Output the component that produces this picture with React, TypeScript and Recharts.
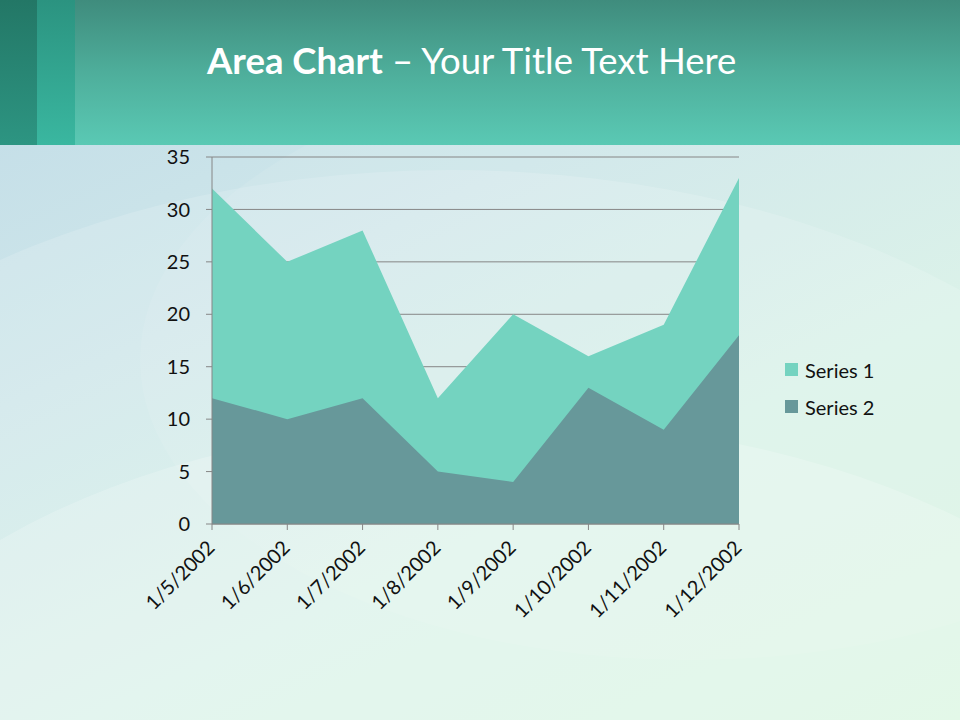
import { AreaChart, Area, XAxis, YAxis, CartesianGrid } from 'recharts'

const dates = ['1/5/2002', '1/6/2002', '1/7/2002', '1/8/2002', '1/9/2002', '1/10/2002', '1/11/2002', '1/12/2002']
const series1 = [32, 25, 28, 12, 20, 16, 19, 33]
const series2 = [12, 10, 12, 5, 4, 13, 9, 18]
const yTicks = [0, 5, 10, 15, 20, 25, 30, 35]
const seriesNames = ['Series 1', 'Series 2']

const colors = {
  s1: '#74d3c0',
  s2: '#67989a',
  grid: '#868686',
  text: '#111111',
}

const font = 'Lato, "Open Sans", sans-serif'

const data = dates.map((d, i) => ({ date: d, s1: series1[i], s2: series2[i] }))

function DateTick(props: any) {
  const { x, y, payload } = props
  return (
    <g transform={`translate(${x + 4},${y + 17})`}>
      <text textAnchor="end" transform="rotate(-45)" fontSize={20} fill={colors.text} fontFamily={font}>
        {payload.value}
      </text>
    </g>
  )
}

export default function App() {
  const legendColors = [colors.s1, colors.s2]
  return (
    <div
      style={{
        position: 'fixed',
        left: 0,
        top: 0,
        width: 960,
        height: 720,
        overflow: 'hidden',
        background: 'linear-gradient(155deg, #c0dbe7 0%, #cfe7ea 35%, #d8f1e8 65%, #d8f6df 100%)',
      }}
    >
      {/* soft swooshes */}
      <div style={{ position: 'absolute', left: -300, top: 170, width: 1500, height: 900, borderRadius: '50%', background: 'rgba(255,255,255,0.15)' }} />
      <div style={{ position: 'absolute', left: 140, top: 60, width: 1100, height: 600, borderRadius: '50%', background: 'rgba(255,255,255,0.08)' }} />
      <div style={{ position: 'absolute', left: -200, top: 420, width: 1400, height: 800, borderRadius: '50%', background: 'rgba(255,255,255,0.2)' }} />

      {/* header band */}
      <div style={{ position: 'absolute', left: 0, top: 0, width: 960, height: 145, background: 'linear-gradient(180deg, #3f8c7d 0%, #4eae9b 50%, #5ac9b4 100%)' }} />
      <div style={{ position: 'absolute', left: 0, top: 0, width: 37, height: 145, background: 'linear-gradient(180deg, #237766 0%, #2d9582 100%)' }} />
      <div style={{ position: 'absolute', left: 37, top: 0, width: 38, height: 145, background: 'linear-gradient(180deg, #2b9380 0%, #3ab7a0 100%)' }} />
      <div
        style={{
          position: 'absolute',
          left: 207,
          top: 38,
          fontFamily: font,
          fontSize: 36.5,
          color: '#ffffff',
          whiteSpace: 'nowrap',
        }}
      >
        <span style={{ fontWeight: 700 }}>Area Chart</span> – Your Title Text Here
      </div>

      <div style={{ position: 'absolute', left: 0, top: 0 }}>
        <AreaChart width={960} height={720} data={data} margin={{ top: 157, right: 221, bottom: 0, left: 0 }}>
          <CartesianGrid vertical={false} stroke={colors.grid} strokeWidth={1} />
          <XAxis
            dataKey="date"
            height={196}
            interval={0}
            tick={<DateTick />}
            tickSize={6}
            stroke={colors.grid}
            padding={{ left: 0, right: 0 }}
          />
          <YAxis
            width={212}
            domain={[0, 35]}
            ticks={yTicks}
            interval={0}
            tickSize={6}
            tickMargin={16}
            stroke={colors.grid}
            tick={{ fontSize: 20, fill: colors.text, fontFamily: font }}
          />
          <Area
            name={seriesNames[0]}
            dataKey="s1"
            type="linear"
            fill={colors.s1}
            fillOpacity={1}
            stroke="none"
            isAnimationActive={false}
          />
          <Area
            name={seriesNames[1]}
            dataKey="s2"
            type="linear"
            fill={colors.s2}
            fillOpacity={1}
            stroke="none"
            isAnimationActive={false}
          />
        </AreaChart>
      </div>

      {/* legend */}
      <div style={{ position: 'absolute', left: 785, top: 351, fontFamily: font, fontSize: 20, color: colors.text }}>
        {seriesNames.map((n, i) => (
          <div key={n} style={{ display: 'flex', alignItems: 'center', height: 37 }}>
            <span style={{ display: 'inline-block', width: 13, height: 13, background: legendColors[i], marginRight: 7 }} />
            {n}
          </div>
        ))}
      </div>
    </div>
  )
}
